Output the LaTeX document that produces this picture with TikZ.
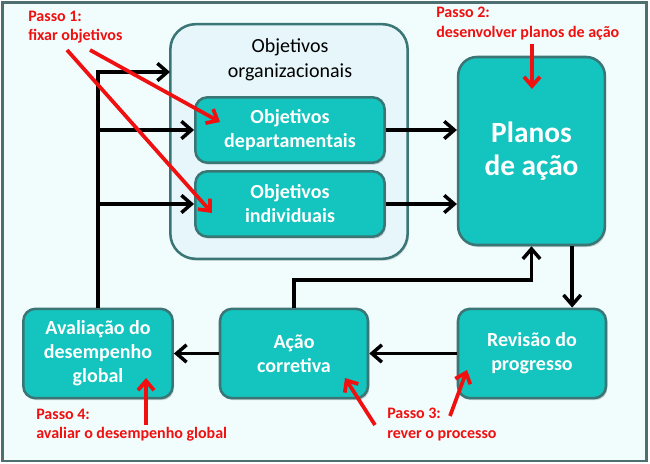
\documentclass[tikz,border=0pt]{standalone}
\usepackage{fontspec}
\setmainfont{Carlito}
\usepackage{xcolor}
\definecolor{aqua}{HTML}{14C4BE}
\definecolor{rim}{HTML}{3A7676}
\definecolor{frame}{HTML}{4E6F70}
\definecolor{mist}{HTML}{F1FCFD}
\definecolor{frost}{HTML}{E6F6FA}
\definecolor{alert}{HTML}{F01010}
\usepackage{tikz}
\usetikzlibrary{arrows.meta,positioning,calc,shadows}
\tikzset{
    stage/.style={draw=rim, fill=aqua, line width=1.9pt, rounded corners=9pt, align=center, text=white, font=\bfseries\fontsize{15}{18}\selectfont, drop shadow={opacity=0.35, shadow xshift=1pt, shadow yshift=-1.5pt}},
    group/.style={draw=rim, fill=frost, line width=1.9pt, rounded corners=19pt, drop shadow={opacity=0.25, shadow xshift=1pt, shadow yshift=-1.5pt}},
    flow/.style={-{Straight Barb[length=7.5pt, width=13pt, line width=2.6pt]}, line width=2.6pt, black},
    hint/.style={-{Straight Barb[length=7pt, width=12pt, line width=2.8pt]}, line width=2.8pt, alert},
    note/.style={anchor=north west, inner sep=0pt, align=left, text=alert, font=\bfseries\fontsize{12}{14.5}\selectfont}
}

\begin{document}
\begin{tikzpicture}[x=0.75pt, y=-0.75pt]
  \useasboundingbox (0,0) rectangle (650,464);

  % Outer frame
  \node[draw=frame, fill=mist, line width=2pt, minimum width=483pt, minimum height=344pt, inner sep=0pt] (board) at (324.5,231.5) {};

  % Organisational goals group
  \node[group, minimum width=178pt, minimum height=176pt] (org) at (289,141.5) {};
  \node[align=center, font=\fontsize{15}{18.5}\selectfont] (orgtitle) at (290,60) {Objetivos\\organizacionais};
  \node[stage, minimum width=142pt, minimum height=49pt] (dept) at (290,130) {Objetivos\\departamentais};
  \node[stage, minimum width=142pt, minimum height=49pt] (indiv) at (290,204) {Objetivos\\individuais};

  % Cycle stages
  \node[stage, rounded corners=14pt, minimum width=110pt, minimum height=141pt, font=\bfseries\fontsize{22}{25}\selectfont] (plan) at (531.5,151) {Planos\\de a\c{c}\~ao};
  \node[stage, minimum width=111pt, minimum height=67pt] (rev) at (532,353.5) {Revis\~ao do\\progresso};
  \node[stage, minimum width=111pt, minimum height=67pt] (acao) at (294,353.5) {A\c{c}\~ao\\corretiva};
  \node[stage, minimum width=112pt, minimum height=67pt] (aval) at (98,353.5) {Avalia\c{c}\~ao do\\desempenho\\global};

  % Step notes
  \node[note] (step1) at (28,11) {Passo 1:\\fixar objetivos};
  \node[note] (step2) at (436,7) {Passo 2:\\desenvolver planos de a\c{c}\~ao};
  \node[note] (step3) at (387,408) {Passo 3:\\rever o processo};
  \node[note] (step4) at (36,409) {Passo 4:\\avaliar o desempenho global};

  % Entry points
  \coordinate (orgin) at (170,72);
  \coordinate (loop) at (294,280);

  % Black connectors
  \draw[flow] (aval.north) |- (orgin);
  \draw[flow] (aval.north |- dept.west) -- (dept.west);
  \draw[flow] (aval.north |- indiv.west) -- (indiv.west);
  \draw[flow] (dept.east) -- (dept.east -| plan.west);
  \draw[flow] (indiv.east) -- (indiv.east -| plan.west);
  \draw[flow] ([xshift=30.5pt]plan.south) -- ([xshift=30.5pt]plan.south |- rev.north);
  \draw[flow] (rev.west) -- (acao.east);
  \draw[flow] (acao.west) -- (aval.east);
  \draw[flow] (acao.north) -- (loop) -| (plan.south);

  % Red pointers
  \coordinate (tip1a) at (220,122);
  \coordinate (tip1b) at (212,213);
  \coordinate (tip2) at (532,89);
  \coordinate (tip3a) at (345,378);
  \coordinate (tip3b) at (467,370);
  \coordinate (tip4) at (146,378);
  \draw[hint] (90,50) -- (tip1a);
  \draw[hint] (67,50) -- (tip1b);
  \draw[hint] (532,44) -- (tip2);
  \draw[hint] (375,425) -- (tip3a);
  \draw[hint] (450,416) -- (tip3b);
  \draw[hint] (146,425) -- (tip4);

\end{tikzpicture}
\end{document}
